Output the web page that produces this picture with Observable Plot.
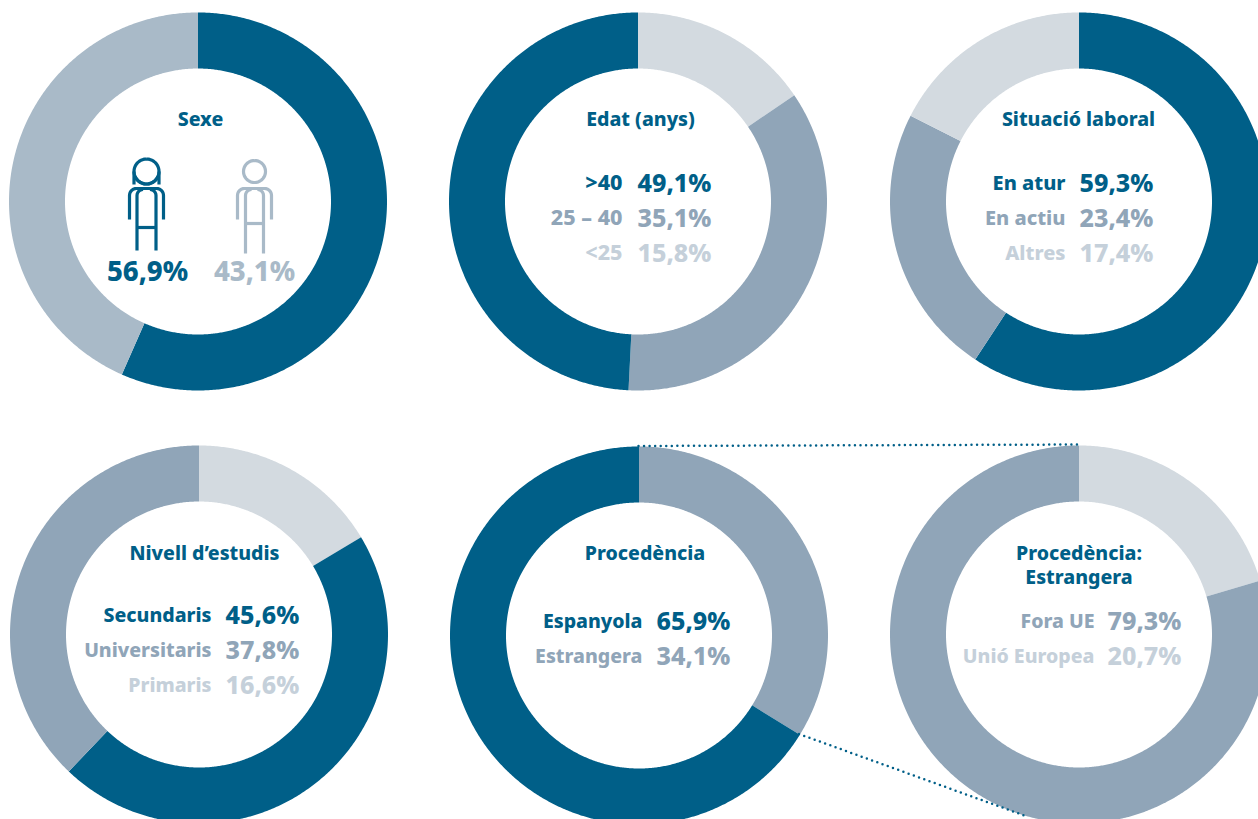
<!DOCTYPE html>
<html><head><meta charset="utf-8">
<script src="https://cdn.jsdelivr.net/npm/d3@7"></script>
<script src="https://cdn.jsdelivr.net/npm/@observablehq/plot@0.6"></script>
<style>html,body{margin:0;padding:0;background:#fff;overflow:hidden}svg{display:block}</style>
</head><body><div id="chart"></div>
<script>
// ---- data ----
const titles = ["Sexe","Edat (anys)","Situació laboral","Nivell d’estudis","Procedència","Procedència:\nEstrangera"];
const sexeValues = [56.9, 43.1];
const edatLabels = [">40","25 – 40","<25"];
const edatValues = [49.1, 35.1, 15.8];
const laboralLabels = ["En atur","En actiu","Altres"];
const laboralValues = [59.3, 23.4, 17.4];
const estudisLabels = ["Secundaris","Universitaris","Primaris"];
const estudisValues = [45.6, 37.8, 16.6];
const procedenciaLabels = ["Espanyola","Estrangera"];
const procedenciaValues = [65.9, 34.1];
const estrangeraLabels = ["Fora UE","Unió Europea"];
const estrangeraValues = [79.3, 20.7];
// arc extents as drawn in the picture, clockwise from 12 o'clock
const sexeArcs = [56.6, 43.4];
const edatArcs = [15.5, 35.3, 49.2];
const laboralArcs = [59.25, 23.25, 17.5];
const estudisArcs = [16.4, 45.7, 37.9];
const procedenciaArcs = [33.8, 66.2];
const estrangeraArcs = [20.4, 79.6];

// ---- layout ----
const R = 189, r = 133;
const fmt = v => v.toFixed(1).replace(".", ",") + "%";
const tones = ["dark","mid","soft","pale"];
const toneFill = ["#005f88","#90a5b8","#a9bac8","#d3dae0"];
const toneText = {dark:"#005f88", mid:"#90a5b8", soft:"#a9bac8", pale:"#c5d0da"};
const panels = [
  {cx:197.5, cy:201, tx:200, ty:118, arcs:sexeArcs, order:["dark","soft"]},
  {cx:637.5, cy:201, tx:640, ty:118, lx:622, vx:637, ls:21.5, ry:[183,218,253], labels:edatLabels, values:edatValues, rt:["dark","mid","pale"], arcs:edatArcs, order:["pale","mid","dark"]},
  {cx:1078.5, cy:201, tx:1078, ty:118, lx:1065, vx:1079, ls:20, ry:[183,218,253], labels:laboralLabels, values:laboralValues, rt:["dark","mid","pale"], arcs:laboralArcs, order:["dark","mid","pale"]},
  {cx:198.5, cy:634, tx:204, ty:552, lx:211, vx:225, ls:19.5, ry:[615,650,685], labels:estudisLabels, values:estudisValues, rt:["dark","mid","pale"], arcs:estudisArcs, order:["pale","dark","mid"]},
  {cx:638.5, cy:635, tx:644.5, ty:552, lx:642, vx:656, ls:19.5, ry:[621,656], labels:procedenciaLabels, values:procedenciaValues, rt:["dark","mid"], arcs:procedenciaArcs, order:["mid","dark"]},
  {cx:1078.5, cy:634, tx:1078.5, ty:564, lx:1094, vx:1107, ls:19.5, ry:[621,656], labels:estrangeraLabels, values:estrangeraValues, rt:["mid","pale"], arcs:estrangeraArcs, order:["pale","mid"]}
];

const ringPoints = [];
panels.forEach((p,i) => {
  const total = d3.sum(p.arcs);
  let acc = 0;
  p.arcs.forEach((v,j) => {
    const a0 = acc/total*2*Math.PI, a1 = (acc+v)/total*2*Math.PI;
    acc += v;
    const n = Math.max(2, Math.ceil((a1-a0)/(Math.PI/360)));
    const key = i+"-"+j, tone = p.order[j];
    for (let k=0;k<=n;k++){ const a=a0+(a1-a0)*k/n; ringPoints.push({key,tone,x:p.cx+R*Math.sin(a),y:p.cy-R*Math.cos(a)}); }
    for (let k=n;k>=0;k--){ const a=a0+(a1-a0)*k/n; ringPoints.push({key,tone,x:p.cx+r*Math.sin(a),y:p.cy-r*Math.cos(a)}); }
  });
});

const titleRows = panels.map((p,i)=>({t:titles[i],x:p.tx,y:p.ty}));
const rows = panels.flatMap(p=>p.labels?p.labels.map((l,k)=>({l,v:fmt(p.values[k]),lx:p.lx,vx:p.vx,ls:p.ls,y:p.ry[k],tone:p.rt[k]})):[]);

// Pictograms
const arc = (cx,cy,rad,a0,a1,n=24)=>d3.range(n+1).map(k=>{const a=(a0+(a1-a0)*k/n)*Math.PI/180;return [cx+rad*Math.sin(a),cy-rad*Math.cos(a)];});
function figure(id,cx,armX,legX,bar,foot,hair){
  const parts=[];
  parts.push(arc(cx,171,hair?12.5:11,0,360,48));
  parts.push([[cx-armX,219],[cx-armX,195],...arc(cx-armX+7,195,7,270,360,8),[cx+armX-7,188],...arc(cx+armX-7,195,7,0,90,8),[cx+armX,219]]);
  parts.push([[cx-legX,foot],[cx-legX,195],...arc(cx-legX+6,195,6,270,360,6)]);
  parts.push([[cx+legX,foot],[cx+legX,195],...arc(cx+legX-6,195,6,90,0,6)]);
  parts.push([[cx-legX,bar],[cx+legX,bar]]);
  if(hair){
    parts.push([[cx-12.5,171],[cx-12.5,184]]);
    parts.push([[cx+12.5,171],[cx+12.5,184]]);
    parts.push(arc(cx,171,12.5,115,245,14));
  }
  return parts.flatMap((pts,i)=>pts.map(([x,y])=>({x,y,k:id+i})));
}
const woman = figure("w",146,17,9.5,227,250,true);
const man = figure("m",254,17,9,223,253,false);

const dotted = [
  {k:"a",x:638,y:445.5},{k:"a",x:1080,y:444},
  {k:"b",x:798.5,y:733.5},{k:"b",x:1028,y:816.5}
];

const FONT = "'Noto Sans', sans-serif";
const textBase = {fontFamily:FONT,fontWeight:800,lineAnchor:"middle"};
const chart = Plot.plot({
  width:1258,height:819,margin:0,
  style:{background:"#fff",overflow:"hidden"},
  x:{domain:[0,1258],range:[0,1258],axis:null},
  y:{domain:[0,819],range:[0,819],axis:null},
  color:{type:"ordinal",domain:tones,range:toneFill},
  marks:[
    Plot.line(ringPoints,{x:"x",y:"y",z:"key",fill:"tone",stroke:"none"}),
    Plot.line(dotted,{x:"x",y:"y",z:"k",stroke:"#005f88",strokeWidth:2.5,strokeLinecap:"round",strokeDasharray:"0 5.55"}),
    Plot.line(woman,{x:"x",y:"y",z:"k",stroke:"#005f88",strokeWidth:3.2,strokeLinecap:"butt"}),
    Plot.line(man,{x:"x",y:"y",z:"k",stroke:"#a9bac8",strokeWidth:3.2,strokeLinecap:"butt"}),
    Plot.text(titleRows,{...textBase,x:"x",y:"y",text:"t",fill:"#005f88",fontSize:19.5,lineHeight:1.23,textAnchor:"middle"}),
    ...[19.5,20,21.5].map(s=>Plot.text(rows.filter(d=>d.ls===s),{...textBase,x:"lx",y:"y",text:"l",fill:d=>toneText[d.tone],fontSize:s,textAnchor:"end"})),
    Plot.text(rows,{...textBase,x:"vx",y:"y",text:"v",fill:d=>toneText[d.tone],fontSize:25,textAnchor:"start"}),
    Plot.text([{v:fmt(sexeValues[0]),x:147,t:"dark"},{v:fmt(sexeValues[1]),x:254,t:"soft"}],
      {...textBase,x:"x",y:()=>272,text:"v",fill:d=>toneText[d.t],fontSize:27.5,textAnchor:"middle"})
  ]
});
document.getElementById("chart").append(chart);
</script></body></html>
